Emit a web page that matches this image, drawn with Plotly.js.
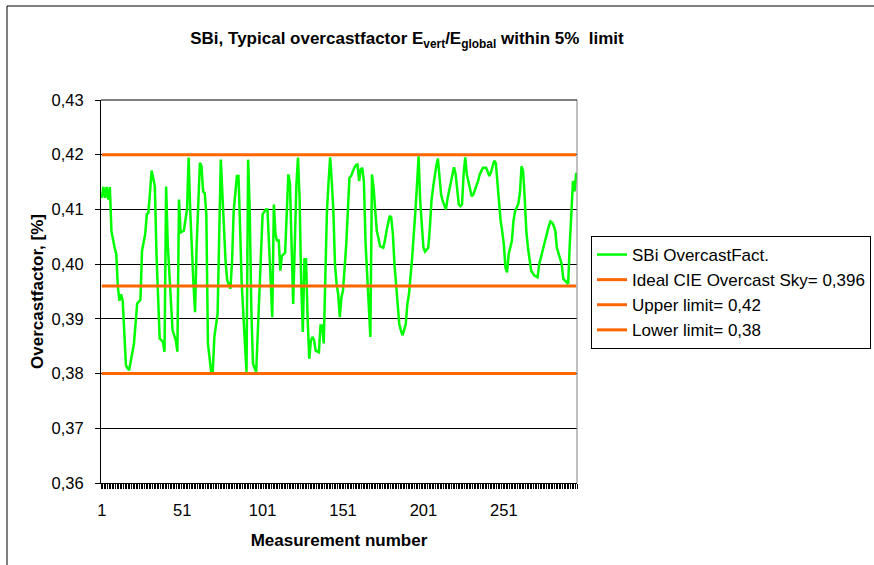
<!DOCTYPE html>
<html>
<head>
<meta charset="utf-8">
<script src="https://cdn.plot.ly/plotly-3.0.1.min.js"></script>
<style>html,body{margin:0;padding:0;background:#fff;}#chart{width:874px;height:565px;}</style>
</head>
<body>
<div id="chart"></div>
<script>
const measurement = [1,2,3,4,5,6,7,8,9,10,11,12,13,14,16,17,18,21,23,25,26,28,29,30,31,32,34,35,37,39,40,41,42,45,47,48,49,50,52,53,54,55,56,58,59,60,62,63,64,65,66,67,69,70,71,73,74,75,76,78,79,81,82,83,85,86,87,88,90,91,92,93,94,95,97,98,99,100,101,103,104,105,106,107,108,109,110,111,112,113,115,116,117,118,119,120,121,122,123,124,125,126,127,128,129,130,131,132,133,134,136,137,138,139,140,141,142,143,144,145,146,147,148,149,150,151,153,154,155,156,157,158,159,160,161,162,163,164,165,166,167,168,169,170,171,172,173,174,176,177,178,179,180,181,182,183,184,185,186,187,188,189,190,191,192,194,195,196,197,198,199,200,201,202,204,205,206,207,208,209,210,211,212,213,214,215,216,217,218,219,220,221,222,223,224,225,226,227,228,229,230,231,232,233,235,236,237,238,240,241,242,243,244,245,246,247,248,249,250,251,252,253,254,255,256,257,258,260,261,262,263,264,265,266,267,268,270,272,273,274,275,277,278,279,280,281,282,283,284,286,287,288,289,290,291,292,293,294,295,296];
// SBi OvercastFact. values
const overcastFactor = [0.4121,0.4141,0.4121,0.4141,0.4118,0.4141,0.4060,0.4042,0.4030,0.4018,0.3958,0.3933,0.3945,0.3933,0.3815,0.3810,0.3806,0.3855,0.3928,0.3935,0.4024,0.4055,0.4091,0.4094,0.4127,0.4171,0.4142,0.4018,0.3864,0.3858,0.3840,0.4142,0.4036,0.3879,0.3861,0.3840,0.4118,0.4058,0.4061,0.4082,0.4100,0.4195,0.4097,0.3964,0.3912,0.4036,0.4185,0.4179,0.4133,0.4130,0.4091,0.3855,0.3803,0.3803,0.3867,0.3909,0.4061,0.4191,0.4127,0.4003,0.3970,0.3955,0.4006,0.4097,0.4161,0.4161,0.4067,0.3964,0.3855,0.3803,0.4191,0.4097,0.3915,0.3818,0.3803,0.3880,0.3970,0.4042,0.4091,0.4100,0.4100,0.4036,0.3964,0.3903,0.4109,0.4055,0.4042,0.4045,0.3988,0.4015,0.4021,0.4109,0.4164,0.4148,0.4036,0.3927,0.4036,0.4145,0.4195,0.4120,0.3964,0.3876,0.4009,0.4009,0.3900,0.3827,0.3860,0.3867,0.3861,0.3842,0.3839,0.3888,0.3888,0.3855,0.3976,0.4097,0.4150,0.4195,0.4152,0.4097,0.4000,0.3964,0.3945,0.3903,0.3939,0.3952,0.4036,0.4109,0.4158,0.4161,0.4170,0.4176,0.4181,0.4182,0.4152,0.4173,0.4176,0.4150,0.4040,0.3976,0.3924,0.3867,0.4164,0.4140,0.4100,0.4061,0.4048,0.4033,0.4030,0.4042,0.4060,0.4075,0.4088,0.4085,0.4055,0.4000,0.3964,0.3930,0.3890,0.3879,0.3870,0.3880,0.3890,0.3927,0.3945,0.4012,0.4048,0.4097,0.4145,0.4197,0.4115,0.4061,0.4030,0.4023,0.4030,0.4067,0.4115,0.4140,0.4165,0.4180,0.4193,0.4164,0.4127,0.4115,0.4106,0.4100,0.4120,0.4135,0.4148,0.4158,0.4177,0.4165,0.4140,0.4109,0.4106,0.4109,0.4165,0.4195,0.4164,0.4150,0.4135,0.4124,0.4127,0.4135,0.4152,0.4164,0.4170,0.4176,0.4176,0.4167,0.4161,0.4168,0.4180,0.4189,0.4185,0.4150,0.4100,0.4080,0.4060,0.4036,0.3994,0.3985,0.4018,0.4030,0.4042,0.4079,0.4097,0.4110,0.4130,0.4179,0.4170,0.4120,0.4060,0.4030,0.4012,0.3988,0.3979,0.3976,0.4000,0.4012,0.4024,0.4048,0.4055,0.4070,0.4078,0.4076,0.4070,0.4061,0.4030,0.4012,0.4000,0.3973,0.3970,0.3968,0.3964,0.4036,0.4109,0.4152,0.4133,0.4167];
// Reference levels
const idealCIE = 0.396;
const upperLimit = 0.42;
const lowerLimit = 0.38;
const seriesNames = ["SBi OvercastFact.", "Ideal CIE Overcast Sky= 0,396", "Upper limit= 0,42", "Lower limit= 0,38"];
// Tick labels
const xTickVals = [1, 51, 101, 151, 201, 251];
const xTickText = ["1", "51", "101", "151", "201", "251"];
const yTickVals = [0.36, 0.37, 0.38, 0.39, 0.40, 0.41, 0.42, 0.43];
const yTickText = ["0,36", "0,37", "0,38", "0,39", "0,40", "0,41", "0,42", "0,43"];

const nMeas = 296;
const xFirst = measurement[0];
const xLast = measurement[measurement.length - 1];
const FONT = "Liberation Sans, Arial, sans-serif";
const ORANGE = "#FF6600";

function levelTrace(name, v) {
  return {x: [xFirst, xLast], y: [v, v], type: "scatter", mode: "lines", name: name,
          line: {color: ORANGE, width: 3}, hoverinfo: "skip"};
}

const traces = [
  {x: measurement, y: overcastFactor, type: "scatter", mode: "lines", name: seriesNames[0],
   line: {color: "#00FF00", width: 2.5}},
  levelTrace(seriesNames[1], idealCIE),
  levelTrace(seriesNames[2], upperLimit),
  levelTrace(seriesNames[3], lowerLimit)
];

const W = 874, H = 565;
const L = 101, R = 577, T = 100, B = 483;
function px(xp) { return (xp - L) / (R - L); }
function py(yp) { return (B - yp) / (B - T); }

const layout = {
  width: W, height: H,
  margin: {l: L, r: W - R, t: T, b: H - B, pad: 0, autoexpand: false},
  paper_bgcolor: "#ffffff", plot_bgcolor: "#ffffff",
  font: {family: FONT, size: 16.5, color: "#000"},
  title: {text: "<b>SBi, Typical overcastfactor E<sub>vert</sub>/E<sub>global</sub> within 5%  limit</b>",
          font: {family: FONT, size: 17, color: "#000"},
          x: 407 / W, xref: "container", xanchor: "center",
          y: 1 - 38 / H, yref: "container", yanchor: "middle"},
  showlegend: true,
  legend: {x: px(591), y: py(236), xanchor: "left", yanchor: "top",
           bgcolor: "#ffffff", bordercolor: "#000", borderwidth: 1,
           font: {family: FONT, size: 17, color: "#000"}, tracegroupgap: 0},
  xaxis: {range: [0.5, nMeas + 0.5], tickvals: xTickVals, ticktext: xTickText,
          showgrid: false, zeroline: false, showline: true, linecolor: "#000", linewidth: 1,
          ticks: "", ticklabelstandoff: 12, automargin: false,
          minor: {dtick: 1, tick0: 0.5, ticks: "outside", ticklen: 5, tickcolor: "#000", tickwidth: 1, showgrid: false},
          title: {text: "<b>Measurement number</b>", font: {family: FONT, size: 17}, standoff: 16},
          fixedrange: true},
  yaxis: {range: [0.36, 0.43], tickvals: yTickVals, ticktext: yTickText,
          showgrid: true, gridcolor: "#000", gridwidth: 1, zeroline: false,
          showline: true, linecolor: "#000", linewidth: 1,
          ticks: "outside", ticklen: 5, tickcolor: "#000", tickwidth: 1,
          ticklabelstandoff: 8, automargin: false,
          title: {text: "<b>Overcastfactor, [%]</b>", font: {family: FONT, size: 17}, standoff: 3},
          fixedrange: true},
  shapes: [
    {type: "line", xref: "paper", yref: "paper", x0: 1, x1: 1, y0: 0, y1: 1, line: {color: "#808080", width: 1}},
    {type: "line", xref: "paper", yref: "paper", x0: 0, x1: 1, y0: 1, y1: 1, line: {color: "#000", width: 1}},
    {type: "rect", xref: "paper", yref: "paper", x0: px(7), x1: px(890), y0: py(6), y1: py(580),
     line: {color: "#000", width: 1}, fillcolor: "rgba(0,0,0,0)", layer: "below"}
  ]
};

Plotly.newPlot("chart", traces, layout, {displayModeBar: false, staticPlot: true});
</script>
</body>
</html>
